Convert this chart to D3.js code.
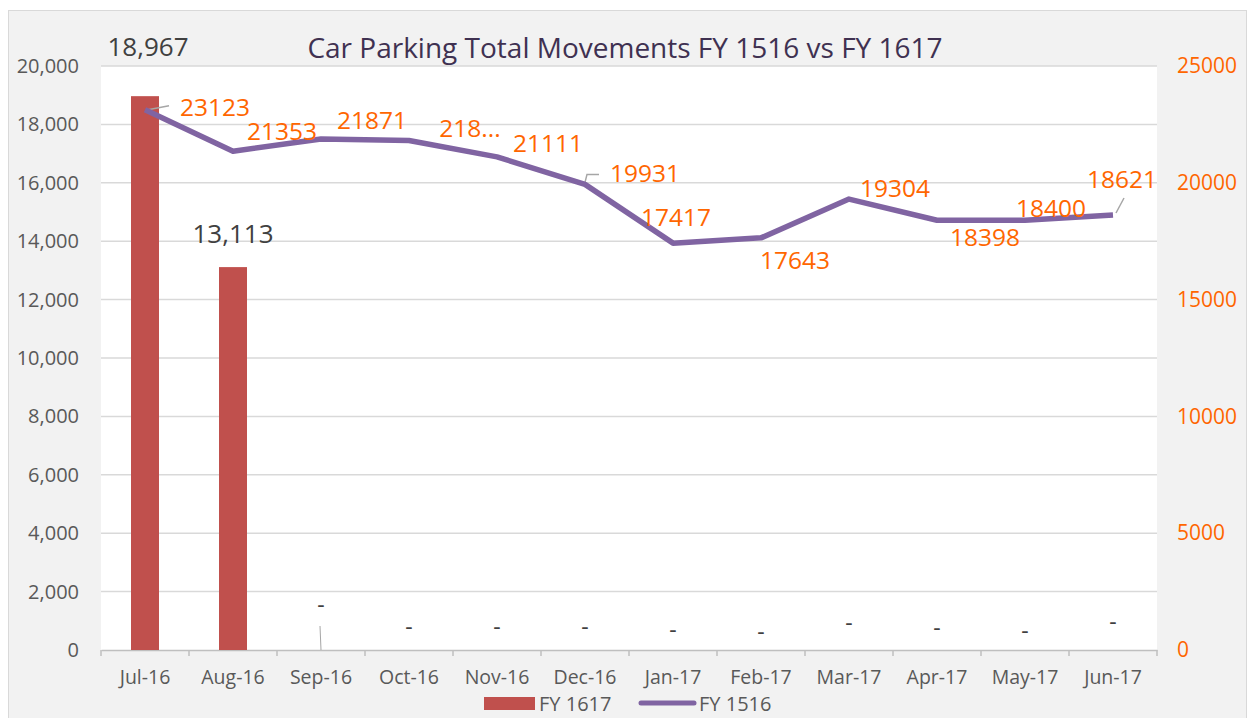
<!DOCTYPE html>
<html>
<head>
<meta charset="utf-8">
<script src="https://cdn.jsdelivr.net/npm/d3@7"></script>
<style>
  body { margin: 0; background: #fff; }
  text { font-family: "Open Sans", sans-serif; }
</style>
</head>
<body>
<div id="chart"></div>
<script>
// data
var months = ["Jul-16", "Aug-16", "Sep-16", "Oct-16", "Nov-16", "Dec-16",
  "Jan-17", "Feb-17", "Mar-17", "Apr-17", "May-17", "Jun-17"];
var fy1617 = [18967, 13113, 0, 0, 0, 0, 0, 0, 0, 0, 0, 0];
var fy1516 = [23123, 21353, 21871, 21810, 21111, 19931, 17417, 17643, 19304, 18398, 18400, 18621];
var lineLabels = ["23123", "21353", "21871", "218...", "21111", "19931",
  "17417", "17643", "19304", "18398", "18400", "18621"];
var leftTicks = [0, 2000, 4000, 6000, 8000, 10000, 12000, 14000, 16000, 18000, 20000];
var rightTicks = [0, 5000, 10000, 15000, 20000, 25000];

// manual label placement (labels were moved by hand in the original)
var lineLabelOffset = [[70, -3], [49, -20], [51, -19], [61, -12], [51, -14], [60, -11],
  [3, -26], [34, 22], [46, -11], [48, 17], [26, -12], [9, -36]];
var barDashDy = [0, 0, 44, 22, 22, 22, 19, 17, 26, 21, 18, 27];

var W = 1250, H = 718;
var margin = { top: 66, right: 93, bottom: 68, left: 101 },
  width = W - margin.left - margin.right,
  height = H - margin.top - margin.bottom;

var svg = d3.select("#chart").append("svg")
  .attr("width", W).attr("height", H);

// outer chart area
svg.append("rect").attr("x", 8.5).attr("y", 10.5)
  .attr("width", W - 12).attr("height", H - 6)
  .attr("fill", "#f2f2f2").attr("stroke", "#d9d9d9");

var g = svg.append("g")
  .attr("transform", "translate(" + margin.left + "," + margin.top + ")");

g.append("rect").attr("width", width).attr("height", height).attr("fill", "#fff");

var x = d3.scaleBand().domain(months).range([0, width]);
var yL = d3.scaleLinear().domain([0, 20000]).range([height, 0]);
var yR = d3.scaleLinear().domain([0, 25000]).range([height, 0]);

// gridlines
g.append("g").selectAll("line").data(leftTicks.slice(1)).enter().append("line")
  .attr("x1", 0).attr("x2", width)
  .attr("y1", function (d) { return yL(d); }).attr("y2", function (d) { return yL(d); })
  .attr("stroke", "#d9d9d9").attr("stroke-width", 1.5);

// left axis
var yaxis = g.append("g")
  .call(d3.axisLeft(yL).tickValues(leftTicks).tickSize(0).tickPadding(22)
    .tickFormat(d3.format(",")));
yaxis.select(".domain").remove();
yaxis.selectAll("text").attr("fill", "#595959").style("font-size", "20px");

// right axis
var raxis = g.append("g").attr("transform", "translate(" + width + ",0)")
  .call(d3.axisRight(yR).tickValues(rightTicks).tickSize(0).tickPadding(20)
    .tickFormat(d3.format("d")));
raxis.select(".domain").remove();
raxis.selectAll("text").attr("fill", "#ff6600").style("font-size", "21px");

// x axis
var xaxis = g.append("g").attr("transform", "translate(0," + height + ")")
  .call(d3.axisBottom(x).tickSize(0).tickPadding(20));
xaxis.select(".domain").attr("stroke", "#bfbfbf").attr("stroke-width", 1.5);
xaxis.selectAll("text").attr("fill", "#595959").style("font-size", "19.5px");
g.append("g").selectAll("line").data(months.concat([null])).enter().append("line")
  .attr("x1", function (d, i) { return i * x.step(); })
  .attr("x2", function (d, i) { return i * x.step(); })
  .attr("y1", height).attr("y2", height + 6)
  .attr("stroke", "#bfbfbf").attr("stroke-width", 1.5);

// bars
var bw = 28;
g.selectAll(".bar").data(fy1617).enter().append("rect")
  .attr("class", "bar")
  .attr("x", function (d, i) { return x(months[i]) + x.bandwidth() / 2 - bw / 2; })
  .attr("y", function (d) { return yL(d); })
  .attr("width", bw)
  .attr("height", function (d) { return height - yL(d); })
  .attr("fill", "#c0504d");

// bar labels
g.selectAll(".blabel").data(fy1617).enter().append("text")
  .attr("x", function (d, i) { return x(months[i]) + x.bandwidth() / 2 + (i === 0 ? 3 : 0); })
  .attr("y", function (d, i) { return d > 0 ? yL(d) - (i === 0 ? 40 : 24) : height - barDashDy[i]; })
  .attr("dy", function (d) { return d > 0 ? 0 : "0.3em"; })
  .attr("text-anchor", "middle")
  .attr("fill", "#404040")
  .style("font-size", function (d) { return d > 0 ? "26px" : "23px"; })
  .text(function (d) { return d > 0 ? d3.format(",")(d) : "-"; });

// leader line for Sep bar label
g.append("line")
  .attr("x1", x(months[2]) + x.bandwidth() / 2 - 1).attr("y1", height - 24)
  .attr("x2", x(months[2]) + x.bandwidth() / 2).attr("y2", height)
  .attr("stroke", "#a6a6a6").attr("stroke-width", 1);

// line
var cx = function (i) { return x(months[i]) + x.bandwidth() / 2; };
var line = d3.line()
  .x(function (d, i) { return cx(i); })
  .y(function (d) { return yR(d); });

// leader lines for some line labels
var leaders = [0, 5, 11];
g.selectAll(".leader").data(leaders).enter().append("path")
  .attr("fill", "none").attr("stroke", "#a6a6a6").attr("stroke-width", 1.5)
  .attr("d", function (i) {
    var px = cx(i), py = yR(fy1516[i]);
    if (i === 0) return "M" + (px + 3) + "," + py + "L" + (px + 24) + "," + (py - 4);
    if (i === 5) return "M" + (px - 1) + "," + (py + 2) + "L" + (px + 2) + "," + (py - 10) + "L" + (px + 14) + "," + (py - 10);
    return "M" + (px + 3) + "," + (py - 2) + "L" + (px + 11) + "," + (py - 17);
  });

g.append("path").datum(fy1516)
  .attr("fill", "none").attr("stroke", "#8064a2").attr("stroke-width", 5.5)
  .attr("stroke-linejoin", "round")
  .attr("d", line);

// line labels
g.selectAll(".llabel").data(fy1516).enter().append("text")
  .attr("x", function (d, i) { return cx(i) + lineLabelOffset[i][0]; })
  .attr("y", function (d, i) { return yR(d) + lineLabelOffset[i][1]; })
  .attr("text-anchor", "middle")
  .attr("dy", "0.36em")
  .attr("fill", "#ff6600")
  .style("font-size", "24.5px")
  .text(function (d, i) { return lineLabels[i]; });

// title
svg.append("text").attr("x", 625).attr("y", 58)
  .attr("text-anchor", "middle").attr("fill", "#3f3151")
  .style("font-size", "28px")
  .text("Car Parking Total Movements FY 1516 vs FY 1617");

// legend
var lg = svg.append("g");
lg.append("rect").attr("x", 484).attr("y", 697).attr("width", 51).attr("height", 13).attr("fill", "#c0504d");
lg.append("text").attr("x", 539).attr("y", 711).attr("fill", "#595959").style("font-size", "20px").text("FY 1617");
lg.append("line").attr("x1", 641).attr("x2", 694).attr("y1", 703).attr("y2", 703)
  .attr("stroke", "#8064a2").attr("stroke-width", 5).attr("stroke-linecap", "round");
lg.append("text").attr("x", 699).attr("y", 711).attr("fill", "#595959").style("font-size", "20px").text("FY 1516");
</script>
</body>
</html>
